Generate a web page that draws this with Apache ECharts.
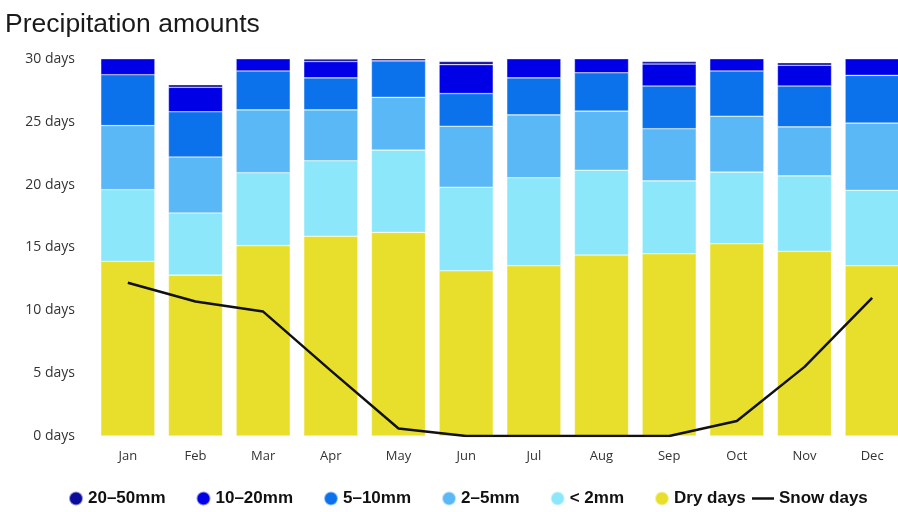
<!DOCTYPE html>
<html>
<head>
<meta charset="utf-8">
<script src="https://cdn.jsdelivr.net/npm/echarts@6/dist/echarts.min.js"></script>
<style>
html,body{margin:0;padding:0;background:#fff;overflow:hidden;width:898px;height:512px;}
#chart{width:906px;height:512px;}
</style>
</head>
<body>
<div id="chart"></div>
<script>
const months = ['Jan','Feb','Mar','Apr','May','Jun','Jul','Aug','Sep','Oct','Nov','Dec'];
const dryDays   = [13.9, 12.8, 15.15, 15.9, 16.2, 13.15, 13.55, 14.4, 14.5, 15.3, 14.7, 13.55];
const lt2mm     = [5.7, 4.95, 5.8, 6.0, 6.55, 6.65, 7.0, 6.75, 5.8, 5.7, 6.0, 6.0];
const mm2to5    = [5.1, 4.45, 5.0, 4.05, 4.2, 4.85, 5.0, 4.7, 4.15, 4.45, 3.9, 5.35];
const mm5to10   = [4.05, 3.6, 3.1, 2.55, 2.9, 2.6, 2.95, 3.05, 3.4, 3.6, 3.25, 3.8];
const mm10to20  = [2.0, 1.95, 1.7, 1.3, 0.9, 2.3, 2.2, 1.85, 1.75, 1.7, 1.65, 2.0];
const mm20to50  = [0.25, 0.2, 0.25, 0.2, 0.25, 0.25, 0.3, 0.25, 0.2, 0.25, 0.2, 0.3];
const snowDays  = [12.2, 10.7, 9.9, 5.2, 0.6, 0, 0, 0, 0, 1.2, 5.5, 11.0];
const yTicks = [0, 5, 10, 15, 20, 25, 30];

const chart = echarts.init(document.getElementById('chart'), null, {renderer: 'canvas'});
const barSeries = [
  {name: 'Dry days', data: dryDays, color: '#e8df2c'},
  {name: '< 2mm', data: lt2mm, color: '#8ce7fb'},
  {name: '2\u20135mm', data: mm2to5, color: '#5ab8f7'},
  {name: '5\u201310mm', data: mm5to10, color: '#0b72ec'},
  {name: '10\u201320mm', data: mm10to20, color: '#0000e6'},
  {name: '20\u201350mm', data: mm20to50, color: '#0c0c9c'}
].map(s => ({
  name: s.name,
  type: 'bar',
  stack: 'precip',
  data: s.data,
  barCategoryGap: '20%',
  clip: true,
  itemStyle: {color: s.color, borderColor: 'rgba(255,255,255,0.55)', borderWidth: 0.6},
  emphasis: {disabled: true}
}));

const legendText = {fontFamily: 'Liberation Sans', fontWeight: 'bold', fontSize: 17, color: '#111'};

chart.setOption({
  animation: false,
  backgroundColor: '#ffffff',
  title: {
    text: 'Precipitation amounts',
    left: 0, top: 6,
    textStyle: {fontFamily: 'Liberation Sans', fontWeight: 'normal', fontSize: 26.5, color: '#1a1a1a'}
  },
  legend: [{
    left: 63, top: 485,
    itemWidth: 14, itemHeight: 14, itemGap: 30,
    icon: 'circle',
    textStyle: legendText,
    data: ['20\u201350mm', '10\u201320mm', '5\u201310mm', '2\u20135mm', '< 2mm', 'Dry days']
  }, {
    left: 747, top: 485,
    itemWidth: 22, itemHeight: 2.5,
    icon: 'rect',
    textStyle: legendText,
    data: ['Snow days']
  }],
  grid: {left: 94, top: 59, right: 0, height: 377, containLabel: false},
  xAxis: {
    type: 'category',
    data: months,
    axisLine: {show: false},
    axisTick: {show: false},
    axisLabel: {margin: 14, fontFamily: 'Open Sans', fontSize: 13, color: '#333'}
  },
  yAxis: {
    type: 'value',
    min: yTicks[0], max: yTicks[yTicks.length - 1], interval: 5,
    splitLine: {show: false},
    axisLine: {show: false},
    axisTick: {show: false},
    axisLabel: {margin: 19, fontFamily: 'Open Sans', fontSize: 14, color: '#333', formatter: '{value} days'}
  },
  series: barSeries.concat([{
    name: 'Snow days',
    type: 'line',
    data: snowDays,
    symbol: 'none',
    z: 5,
    lineStyle: {color: '#111', width: 2.5},
    itemStyle: {color: '#111'},
    emphasis: {disabled: true}
  }])
});
</script>
</body>
</html>
